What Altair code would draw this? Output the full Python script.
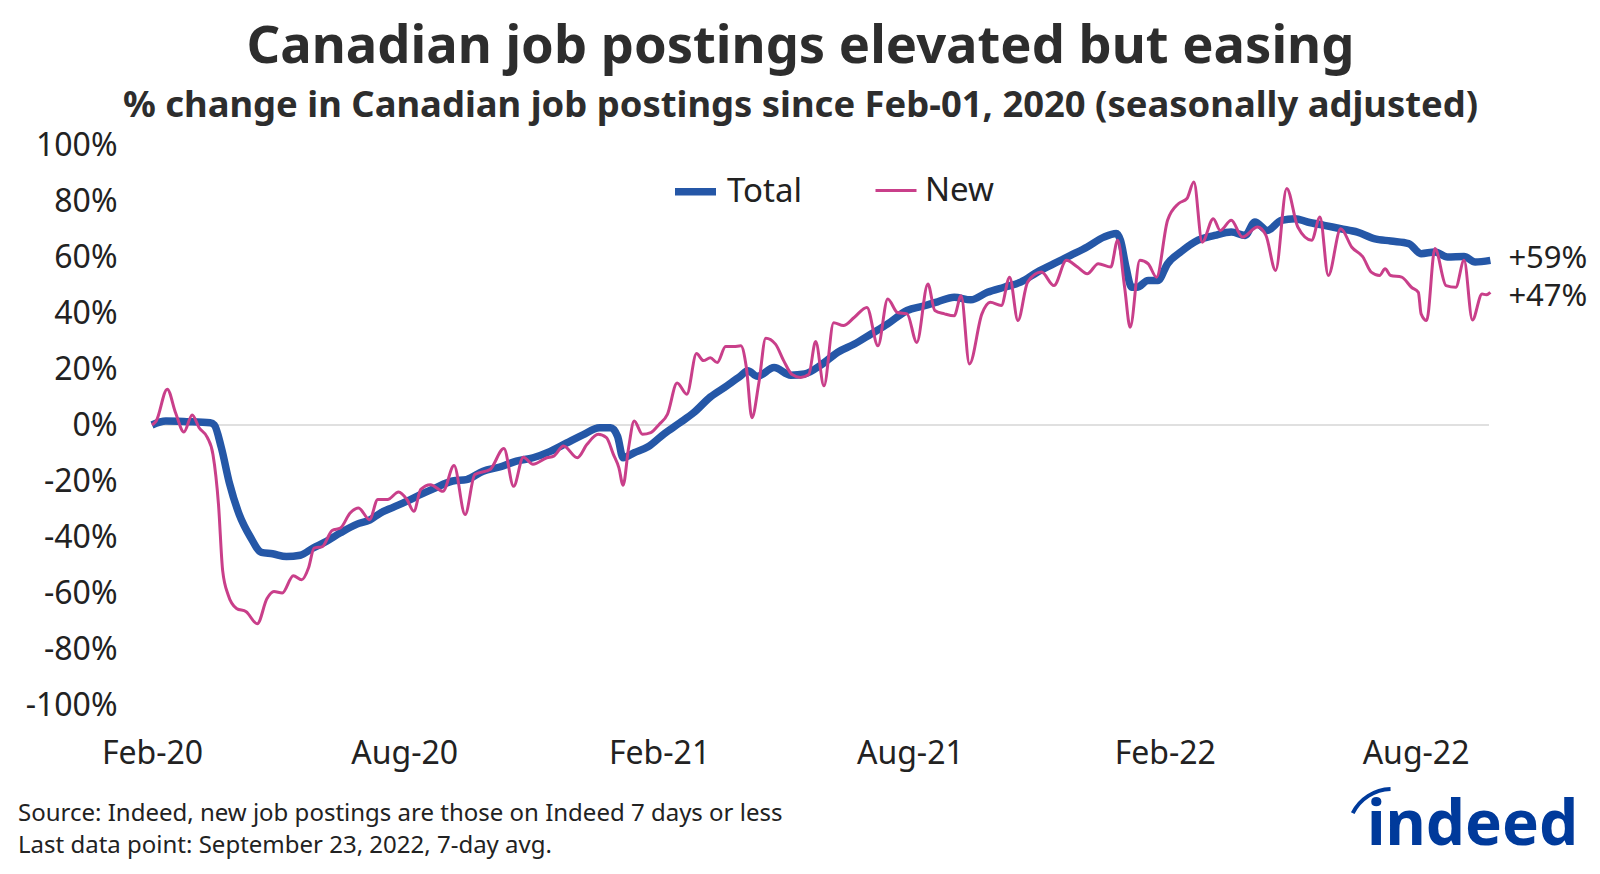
import altair as alt
import pandas as pd

# ---- data (days since 2020-02-01, % change) ----
total_days = [0, 10, 25, 42, 45, 50, 56, 63, 71, 79, 87, 97, 107, 116, 126, 136, 148, 157, 165, 174,
              184, 194, 203, 217, 227, 239, 251, 263, 275, 287, 299, 311, 323, 331, 336, 340, 348, 358,
              370, 381, 391, 403, 415, 425, 430, 437, 449, 461, 471, 483, 495, 507, 519, 531, 545, 557,
              567, 579, 591, 603, 615, 627, 639, 651, 663, 675, 687, 696, 699, 703, 707, 711, 719, 726,
              733, 743, 755, 767, 779, 789, 796, 805, 815, 825, 834, 846, 858, 870, 882, 894, 907, 916,
              926, 935, 947, 955, 966]
total_vals = [0, 1.4, 1.2, 0.8, 0, -8, -21, -32, -40, -45.5, -46, -47, -46.5, -44, -41.5, -38.5, -35.4, -34, -31.4, -29.4,
              -27.2, -24.8, -22.8, -20, -19.5, -16.5, -15, -12.9, -11.7, -9.5, -6.5, -3.5, -1, -1, -4, -11.7, -9.9, -7.8,
              -3, 0.8, 4.4, 10, 14, 17.6, 19.4, 17.4, 20.5, 17.8, 18.2, 21.5, 26, 28.9, 32.5, 36.1, 40.9, 42.5,
              44, 45.6, 44.7, 47.4, 49.2, 51, 54.6, 57.6, 60.6, 63.6, 67.1, 68.4, 66, 56.4, 49.2, 49.2, 51.6, 51.6,
              57.6, 62, 66, 67.7, 68.9, 67.7, 72.5, 69.5, 73.1, 73.7, 72.5, 71.3, 70.1, 68.9, 66.6, 65.7, 64.8, 61.2,
              61.8, 60, 60.2, 58.2, 58.8]

new_days = [0, 3, 11, 17, 23, 29, 34, 40, 44, 48, 51, 55, 61, 68, 76, 83, 88, 94, 102, 108, 113, 117, 123,
            130, 136, 143, 149, 157, 163, 170, 178, 184, 189, 194, 201, 210, 218, 226, 233, 244, 254, 261,
            268, 275, 285, 290, 297, 307, 314, 322, 328, 333, 337, 340, 344, 348, 354, 360, 366, 372, 379,
            386, 393, 398, 403, 408, 414, 420, 425, 429, 433, 438, 443, 450, 456, 462, 468, 474, 479, 485,
            492, 499, 507, 516, 524, 531, 538, 545, 552, 560, 565, 572, 579, 584, 590, 599, 605, 613, 619,
            625, 632, 642, 651, 660, 668, 675, 683, 692, 697, 702, 706, 713, 719, 725, 733, 741, 747, 752,
            758, 766, 771, 779, 787, 798, 804, 811, 819, 827, 837, 843, 849, 858, 866, 874, 880, 886, 890,
            894, 902, 909, 914, 916, 920, 926, 934, 941, 947, 953, 960, 963, 966]
new_vals = [0, 1.4, 12.8, 4.4, -2.5, 3.6, -1, -4.5, -10.5, -28.4, -52, -60.7, -65.5, -66.7, -71, -62, -59.5, -60, -53.8, -55.3, -51, -44, -43.4,
            -37.7, -36.8, -31.4, -29.6, -33.8, -26.6, -26.6, -23.9, -26.6, -30.8, -23, -21.3, -23.7, -14.5, -32, -17.7, -15.9, -8.4, -21.9,
            -11.5, -14, -11.7, -11.1, -7.5, -11.7, -6.9, -3.3, -4.5, -10.5, -15.3, -21.5, -8.1, 1.4, -3.3, -2.7, 0.2, 3.8, 15,
            11, 25.5, 23, 24, 22.3, 28, 28, 28.3, 20.5, 2.6, 15, 31, 28.9, 22.9, 18, 17, 18, 29.8, 14,
            36.5, 35.5, 38.5, 42, 28.3, 45, 40.2, 39.7, 29.5, 50.4, 40.9, 39.7, 39, 46.2, 21.8, 39.7, 43.8, 42.7, 52.8,
            37.3, 51, 54.6, 49.8, 58.8, 56.4, 54, 57.6, 56.4, 66, 49.2, 34.9, 58.8, 57.6, 52.8, 73.1, 79.1, 80.9, 86.8,
            65.3, 73.7, 69.5, 73.1, 67.1, 70.7, 67.7, 55.2, 84.5, 70.7, 66, 74.3, 53.4, 70.1, 63.5, 60, 54.6, 53.4, 55.8,
            53.4, 52.8, 49.2, 47.4, 39.7, 37.3, 63, 49.8, 49.2, 58.8, 37.5, 46.8, 46.5, 47.4]

series_names = ["Total", "New"]
series_colors = ["#2557a7", "#c93f8a"]
series_widths = [7.5, 3]
end_labels = ["+59%", "+47%"]
end_dy = [-1, 5]
y_ticks = [-100, -80, -60, -40, -20, 0, 20, 40, 60, 80, 100]
x_tick_months = [(2020, 2), (2020, 8), (2021, 2), (2021, 8), (2022, 2), (2022, 8)]

title_text = "Canadian job postings elevated but easing"
subtitle_text = "% change in Canadian job postings since Feb-01, 2020 (seasonally adjusted)"
note_lines = ["Source: Indeed, new job postings are those on Indeed 7 days or less",
              "Last data point: September 23, 2022, 7-day avg."]

start = pd.Timestamp("2020-02-01")


def make(days, vals, name):
    return pd.DataFrame({"date": start + pd.to_timedelta(days, unit="D"),
                         "value": vals, "series": name})


df = pd.concat([make(total_days, total_vals, "Total"), make(new_days, new_vals, "New")],
               ignore_index=True)
zero_df = pd.DataFrame({"value": [0]})
note_df = pd.DataFrame({"line": note_lines, "row": [0, 1]})
logo_df = pd.DataFrame({"t": ["indeed"]})

FONT = "Noto Sans"
TXT = "#222222"

x_enc = alt.X(
    "date:T",
    scale=alt.Scale(domain=[alt.DateTime(year=2020, month=2, date=1),
                            alt.DateTime(year=2022, month=9, date=23)]),
    axis=alt.Axis(values=[alt.DateTime(year=y, month=m, date=1) for y, m in x_tick_months],
                  format="%b-%y", title=None, grid=False, domain=False, ticks=False,
                  labelFlush=False, labelOverlap=False,
                  labelPadding=33, labelFontSize=32, labelFont=FONT, labelColor=TXT),
)
y_enc = alt.Y(
    "value:Q",
    scale=alt.Scale(domain=[-100, 100], nice=False),
    axis=alt.Axis(values=y_ticks, labelExpr="datum.value + '%'", title=None, grid=False,
                  domain=False, ticks=False, labelPadding=35, labelFontSize=32,
                  labelFont=FONT, labelColor=TXT),
)

leg = alt.Legend(title=None, orient="none", legendX=519, legendY=22, direction="horizontal",
                 symbolType="stroke", symbolSize=1681, labelFontSize=33, labelFont=FONT,
                 labelColor=TXT, columnPadding=67, labelOffset=7, padding=0)

zero_rule = alt.Chart(zero_df).mark_rule(color="#e0e0e0", strokeWidth=2).encode(y="value:Q")

lines = alt.Chart(df).mark_line(interpolate="monotone").encode(
    x=x_enc,
    y=y_enc,
    color=alt.Color("series:N", scale=alt.Scale(domain=series_names, range=series_colors),
                    legend=leg, sort=series_names),
    strokeWidth=alt.StrokeWidth("series:N",
                                scale=alt.Scale(domain=series_names, range=series_widths),
                                legend=leg, sort=series_names),
    order=alt.Order("series:N", sort="ascending"),
)

end_layers = []
for i in range(2):
    edf = pd.DataFrame({"date": [start + pd.Timedelta(days=[total_days, new_days][i][-1])],
                        "value": [[total_vals, new_vals][i][-1]],
                        "label": [end_labels[i]]})
    end_layers.append(
        alt.Chart(edf).mark_text(align="left", baseline="middle", dx=18, dy=end_dy[i],
                                 fontSize=31, font=FONT, color=TXT).encode(
            x="date:T", y="value:Q", text="label:N"))

note1 = alt.Chart(note_df[note_df.row == 0]).mark_text(
    align="left", baseline="middle", fontSize=24, font=FONT, color=TXT).encode(
    x=alt.value(-134), y=alt.value(669), text="line:N")
note2 = alt.Chart(note_df[note_df.row == 1]).mark_text(
    align="left", baseline="middle", fontSize=24, font=FONT, color=TXT).encode(
    x=alt.value(-134), y=alt.value(701), text="line:N")

logo = alt.Chart(logo_df).mark_text(
    align="left", baseline="alphabetic", fontSize=62, font=FONT, fontWeight="bold",
    color="#003A9B").encode(x=alt.value(1215), y=alt.value(700), text="t:N")
swoosh = alt.Chart(logo_df).mark_arc(radius=46, radius2=42, theta=5.18, theta2=6.25,
                                     color="#003A9B").encode(
    x=alt.value(1240), y=alt.value(688))

chart = alt.layer(zero_rule, lines, *end_layers, note1, note2, logo, swoosh).properties(
    width=1337,
    height=560,
    title=alt.TitleParams(text=title_text, subtitle=subtitle_text, font=FONT, subtitleFont=FONT,
                          fontSize=52.5, subtitleFontSize=36.4, fontWeight="bold",
                          subtitleFontWeight="bold", color="#2d2d2d", subtitleColor="#2d2d2d",
                          anchor="middle", frame="group", dx=-20, offset=4, subtitlePadding=13),
    autosize=alt.AutoSizeParams(type="none"),
    padding={"left": 144, "top": 137, "right": 103, "bottom": 160},
).configure_view(stroke=None)

chart.save("out.html", embed_options={"renderer": "svg", "actions": False})
